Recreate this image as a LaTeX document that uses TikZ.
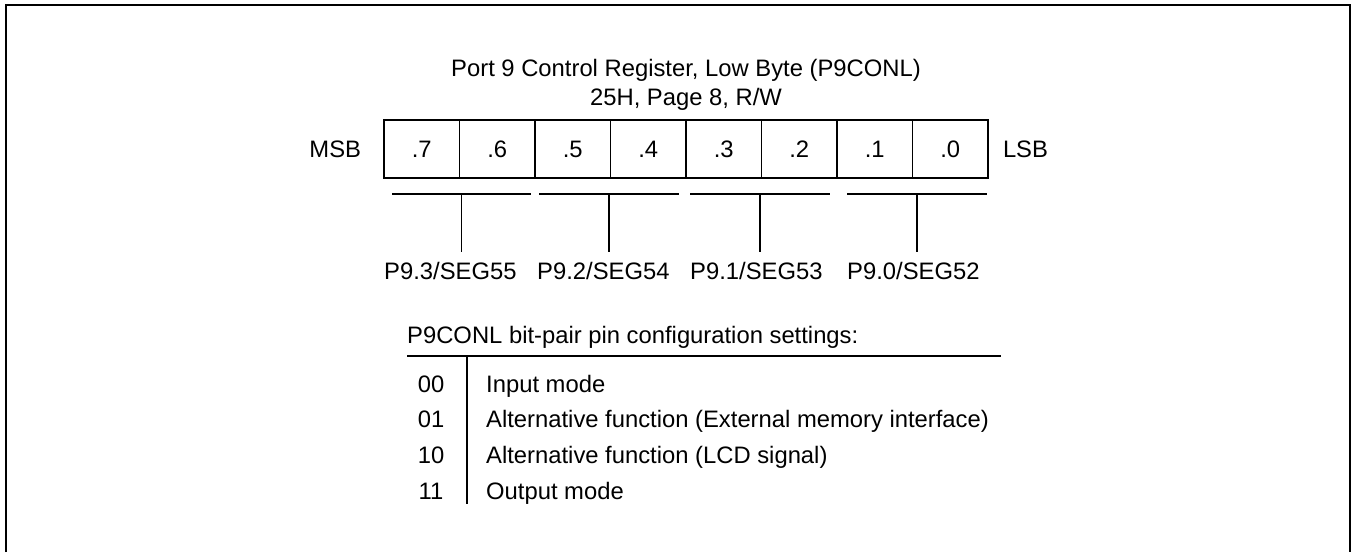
\documentclass[tikz,border=0pt]{standalone}
\usepackage{fontspec}
\setmainfont{Liberation Sans}
\usetikzlibrary{positioning}

\begin{document}
\begin{tikzpicture}[x=1pt, y=-1pt,
    every node/.style={font=\fontsize{23.8}{29}\selectfont},
    cell/.style={draw, line width=1.6pt, minimum width=75.5pt, minimum height=58pt, inner sep=0pt},
    pinlabel/.style={anchor=base west, inner xsep=0pt, inner ysep=9.5pt},
    codecol/.style={anchor=base, inner sep=0pt},
    desccol/.style={anchor=base west, inner sep=0pt},
]

% Frame (open at the bottom)
\useasboundingbox (0,0) rectangle (1352,552);
\draw[line width=2.5pt] (6,552) -- (6,5) -- (1350,5) -- (1350,552);

% Title
\node[anchor=base] (title) at (686,76) {Port 9 Control Register, Low Byte (P9CONL)};
\node[anchor=base] (addr) at (686,105) {25H, Page 8, R/W};

% === Register bits ===
\foreach \b [count=\i] in {7,6,...,0}
  \node[cell] (b\b) at ({384+75.5*(\i-0.5)},149) {.\b};

\node[left=22pt of b7, inner sep=0pt] (msb) {MSB};
\node[right=14pt of b0, inner sep=0pt] (lsb) {LSB};

% === Bit-pair brackets and pins ===
\foreach \lx/\rx/\p/\sg/\tx in {392/531/3/55/384, 539/679/2/54/537, 690/830/1/53/690, 847/987/0/52/847} {
  \coordinate (sl\p) at (\lx,194);
  \coordinate (sr\p) at (\rx,194);
  \coordinate (sm\p) at ({(\lx+\rx)/2},194);
  \node[pinlabel] (pin\p) at (\tx,279) {P9.\p/SEG\sg};
  \draw[line width=1.4pt] (sl\p) -- (sr\p);
  \draw[line width=1.4pt] (sm\p) -- (sm\p |- pin\p.north);
}

% === Settings table ===
\node[anchor=base west, inner sep=0pt] (hdr) at (407,343) {P9CONL bit-pair pin configuration settings:};
\coordinate (rl) at (407,356);
\coordinate (rr) at (1001,356);
\draw[line width=1.6pt] (rl) -- (rr);

\foreach \cd/\txt/\y in {00/Input mode/392,
    01/Alternative function (External memory interface)/427,
    10/Alternative function (LCD signal)/463,
    11/Output mode/499} {
  \node[codecol] (c\cd) at (431,\y) {\cd};
  \node[desccol] (d\cd) at (486,\y) {\txt};
}

\coordinate (vt) at (467,356);
\coordinate (vb) at (467,504);
\draw[line width=1.3pt] (vt) -- (vb);

\end{tikzpicture}
\end{document}
